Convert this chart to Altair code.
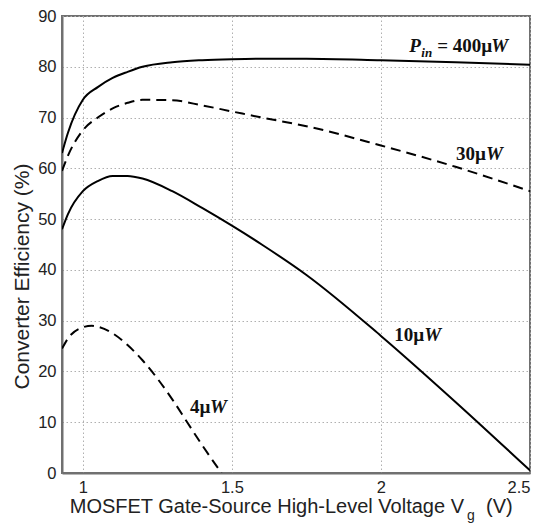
import altair as alt
import pandas as pd

# ---- data ----
vg_main = [0.93, 0.95, 1.0, 1.05, 1.1, 1.15, 1.2, 1.3, 1.4, 1.5, 1.6, 1.75, 2.0, 2.25, 2.5]
eff_400 = [63.0, 67.0, 73.5, 76.0, 77.8, 79.0, 80.0, 80.9, 81.3, 81.5, 81.6, 81.6, 81.3, 80.9, 80.4]
eff_30 = [59.5, 62.5, 67.5, 70.0, 71.8, 72.9, 73.5, 73.4, 72.4, 71.2, 70.0, 68.3, 64.5, 60.3, 55.5]
eff_10 = [48.0, 51.0, 55.5, 57.5, 58.5, 58.5, 58.0, 55.5, 52.2, 48.7, 45.0, 39.0, 27.0, 14.0, 0.5]
vg_4 = [0.93, 0.95, 1.0, 1.03, 1.05, 1.1, 1.15, 1.2, 1.25, 1.3, 1.35, 1.4, 1.465]
eff_4 = [24.5, 26.5, 28.7, 29.0, 28.8, 27.5, 25.2, 22.2, 18.6, 14.5, 10.0, 5.5, 0.0]

series_names = ["400µW", "30µW", "10µW", "4µW"]
series_dashed = [False, True, False, True]

x_ticks = [1, 1.5, 2, 2.5]
y_ticks = [0, 10, 20, 30, 40, 50, 60, 70, 80, 90]

# curve labels: number part + italic W
label_num = ["30µ", "10µ", "4µ"]
label_x = [2.252, 2.045, 1.359]
label_y = [61.6, 26.0, 11.8]
label_w_dx = [30, 30, 20]
pin_x = 2.095
pin_y = 83.0

rows = []
for name, dashed, xs, ys in zip(series_names, series_dashed,
                                [vg_main, vg_main, vg_main, vg_4],
                                [eff_400, eff_30, eff_10, eff_4]):
    for xv, yv in zip(xs, ys):
        rows.append({"series": name, "dashed": dashed, "vg": xv, "eff": yv})
df = pd.DataFrame(rows)

xs = alt.Scale(domain=[0.93, 2.5], nice=False, zero=False)
ys = alt.Scale(domain=[0, 90], nice=False, zero=True)

x_enc = alt.X("vg:Q", scale=xs, axis=alt.Axis(
    values=x_ticks, format="~g", title=None, grid=True, ticks=False,
    labelPadding=6, labelFontSize=16.5, labelColor="#222",
    domainColor="#707070", domainWidth=2,
    gridColor="#b0b0b0", gridDash=[1.5, 2.5], gridWidth=1))
y_enc = alt.Y("eff:Q", scale=ys, axis=alt.Axis(
    values=y_ticks, title="Converter Efficiency (%)", grid=True, ticks=False,
    labelPadding=6, labelFontSize=16.5, labelColor="#222",
    titleFontSize=21, titleFontWeight="normal", titleColor="#222",
    titleX=-30, titleY=260,
    domainColor="#707070", domainWidth=2,
    gridColor="#b0b0b0", gridDash=[1.5, 2.5], gridWidth=1))

solid = alt.Chart(df).transform_filter("!datum.dashed").mark_line(
    color="black", strokeWidth=2, interpolate="monotone", clip=True
).encode(x=x_enc, y=y_enc, detail="series:N")

dashed = alt.Chart(df).transform_filter("datum.dashed").mark_line(
    color="black", strokeWidth=2, strokeDash=[10, 6], interpolate="monotone", clip=True
).encode(x="vg:Q", y="eff:Q", detail="series:N")

serif = "Liberation Serif"
lab_df = pd.DataFrame({"num": label_num, "x": label_x, "y": label_y})
lab_num = alt.Chart(lab_df).mark_text(
    font=serif, fontWeight="bold", fontSize=19, align="left", baseline="alphabetic", color="#111"
).encode(x="x:Q", y="y:Q", text="num:N")

lab_w_layers = []
for i in range(len(label_x)):
    sub = pd.DataFrame({"x": [label_x[i]], "y": [label_y[i]]})
    lab_w_layers.append(alt.Chart(sub).mark_text(
        font=serif, fontWeight="bold", fontStyle="italic", fontSize=19, align="left",
        baseline="alphabetic", color="#111", dx=label_w_dx[i]
    ).encode(x="x:Q", y="y:Q", text=alt.value("W")))

pin_df = pd.DataFrame({"x": [pin_x], "y": [pin_y]})
pin_P = alt.Chart(pin_df).mark_text(
    font=serif, fontWeight="bold", fontStyle="italic", fontSize=19, align="left",
    baseline="alphabetic", color="#111").encode(x="x:Q", y="y:Q", text=alt.value("P"))
pin_in = alt.Chart(pin_df).mark_text(
    font=serif, fontWeight="bold", fontStyle="italic", fontSize=13, align="left",
    baseline="alphabetic", color="#111", dx=12, dy=5).encode(x="x:Q", y="y:Q", text=alt.value("in"))
pin_mid = alt.Chart(pin_df).mark_text(
    font=serif, fontWeight="bold", fontSize=19, align="left",
    baseline="alphabetic", color="#111", dx=28).encode(x="x:Q", y="y:Q", text=alt.value("= 400µ"))
pin_W = alt.Chart(pin_df).mark_text(
    font=serif, fontWeight="bold", fontStyle="italic", fontSize=19, align="left",
    baseline="alphabetic", color="#111", dx=82).encode(x="x:Q", y="y:Q", text=alt.value("W"))

# x-axis title with subscript g
anchor = pd.DataFrame({"k": [0]})
xt_main = alt.Chart(anchor).mark_text(
    font="Liberation Sans", fontSize=20, align="right", baseline="alphabetic", color="#222"
).encode(x=alt.value(402), y=alt.value(497), text=alt.value("MOSFET Gate-Source High-Level Voltage V"))
xt_g = alt.Chart(anchor).mark_text(
    font="Liberation Sans", fontSize=14, align="left", baseline="alphabetic", color="#222"
).encode(x=alt.value(405), y=alt.value(504), text=alt.value("g"))
xt_v = alt.Chart(anchor).mark_text(
    font="Liberation Sans", fontSize=20, align="left", baseline="alphabetic", color="#222"
).encode(x=alt.value(424), y=alt.value(497), text=alt.value("(V)"))

chart = alt.layer(
    solid, dashed, lab_num, *lab_w_layers, pin_P, pin_in, pin_mid, pin_W, xt_main, xt_g, xt_v
).properties(
    width=468, height=457,
    autosize=alt.AutoSizeParams(type="none"),
    padding={"left": 62, "top": 16, "right": 11, "bottom": 52},
    background="white",
).configure_view(
    stroke="#707070", strokeWidth=2
).configure_axis(
    labelFont="Liberation Sans", titleFont="Liberation Sans"
)

chart.save("out.html", embed_options={"renderer": "svg", "actions": False})
